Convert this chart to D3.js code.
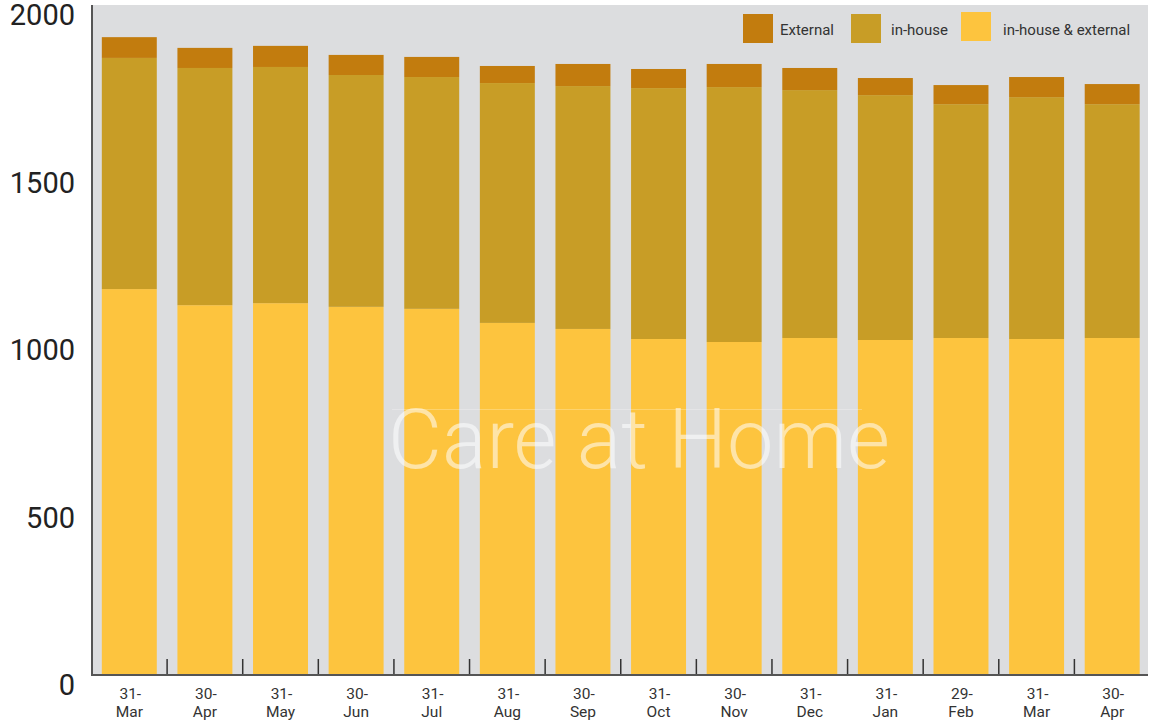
<!DOCTYPE html>
<html>
<head>
<meta charset="utf-8">
<script src="https://cdn.jsdelivr.net/npm/d3@7"></script>
<style>
  body { margin: 0; background: #fff; }
  svg { display: block; font-family: Roboto, "Noto Sans", sans-serif; }
</style>
</head>
<body>
<svg id="chart" width="1149" height="720"></svg>
<script>
// month-end dates, two lines each
var days = ['31', '30', '31', '30', '31', '31', '30', '31', '30', '31', '31', '29', '31', '30'];
var months = ['Mar', 'Apr', 'May', 'Jun', 'Jul', 'Aug', 'Sep', 'Oct', 'Nov', 'Dec', 'Jan', 'Feb', 'Mar', 'Apr'];

// series
var both = [1152, 1104, 1110, 1099, 1093, 1051, 1033, 1003, 994, 1006, 1000, 1006, 1003, 1006];
var inHouse = [690, 708, 705, 692, 692, 716, 725, 749, 761, 740, 731, 698, 722, 698];
var external = [62, 60, 63, 60, 60, 51, 66, 57, 69, 66, 51, 57, 60, 60];

var yTicks = [0, 500, 1000, 1500, 2000];
var seriesNames = ['in-house & external', 'in-house', 'External'];
var legendOrder = ['External', 'in-house', 'in-house & external'];

var colors = {
    'in-house & external': '#fdc43e',
    'in-house': '#c89d26',
    'External': '#c27c0e'
};

var svg = d3.select('#chart');
// note: "top" is taken by window.top, so use plot* names
var plotL = 92, plotR = 1148, plotT = 5, plotB = 675;

var rows = days.map(function (d, i) {
    return {
        key: i,
        'in-house & external': both[i],
        'in-house': inHouse[i],
        'External': external[i]
    };
});

var x = d3.scaleBand()
    .domain(rows.map(function (d) { return d.key; }))
    .range([91.5, 1150])
    .paddingInner(0.273)
    .paddingOuter(0.1365);

var y = d3.scaleLinear().domain([0, 2000]).range([plotB, plotT]);

//plot background
svg.append('rect')
    .attr('x', plotL).attr('y', plotT)
    .attr('width', plotR - plotL).attr('height', plotB - plotT)
    .attr('fill', '#dcdddf');

var stack = d3.stack().keys(seriesNames)(rows);

svg.append('g').selectAll('g')
    .data(stack)
    .join('g')
    .attr('fill', function (s) { return colors[s.key]; })
    .selectAll('rect')
    .data(function (s) { return s; })
    .join('rect')
    .attr('x', function (d) { return x(d.data.key); })
    .attr('width', x.bandwidth())
    .attr('y', function (d) { return y(d[1]); })
    .attr('height', function (d) { return y(d[0]) - y(d[1]); });

//watermark title
svg.append('line')
    .attr('x1', 392).attr('x2', 862)
    .attr('y1', 409.5).attr('y2', 409.5)
    .attr('stroke', '#fff').attr('stroke-opacity', 0.25);
svg.append('text')
    .attr('x', 639).attr('y', 468)
    .attr('text-anchor', 'middle')
    .attr('font-size', 83)
    .attr('font-weight', 300)
    .attr('fill', '#fff')
    .attr('fill-opacity', 0.55)
    .text('Care at Home');

//x ticks between bars, pointing up
var gap = x.step() - x.bandwidth();
svg.append('g').selectAll('line')
    .data(rows.slice(0, rows.length - 1))
    .join('line')
    .attr('x1', function (d) { return x(d.key) + x.bandwidth() + gap / 2; })
    .attr('x2', function (d) { return x(d.key) + x.bandwidth() + gap / 2; })
    .attr('y1', plotB).attr('y2', plotB - 16)
    .attr('stroke', '#333').attr('stroke-width', 1.5);

//axis lines
svg.append('line')
    .attr('x1', plotL).attr('x2', plotR)
    .attr('y1', plotB).attr('y2', plotB)
    .attr('stroke', '#555').attr('stroke-width', 2);
svg.append('line')
    .attr('x1', plotL).attr('x2', plotL)
    .attr('y1', plotT).attr('y2', plotB + 1)
    .attr('stroke', '#555').attr('stroke-width', 2);

//x labels
var xl = svg.append('g').selectAll('text')
    .data(rows)
    .join('text')
    .attr('text-anchor', 'middle')
    .attr('font-size', 15.5)
    .attr('fill', '#333');
xl.append('tspan')
    .attr('x', function (d) { return x(d.key) + x.bandwidth() / 2 + 1; })
    .attr('y', 699)
    .text(function (d) { return days[d.key] + '-'; });
xl.append('tspan')
    .attr('x', function (d) { return x(d.key) + x.bandwidth() / 2; })
    .attr('y', 717)
    .text(function (d) { return months[d.key]; });

//y labels hang below their value
svg.append('g').selectAll('text')
    .data(yTicks)
    .join('text')
    .attr('x', 75)
    .attr('y', function (d) { return y(d) + 20; })
    .attr('text-anchor', 'end')
    .attr('font-size', 29)
    .attr('fill', '#222')
    .text(function (d) { return d; });

//legend
var legendX = [743, 851, 961];
var legendY = [14, 14, 12];
var textX = [780, 891, 1003];
var lg = svg.append('g').selectAll('g')
    .data(legendOrder)
    .join('g');
lg.append('rect')
    .attr('x', function (d, i) { return legendX[i]; })
    .attr('y', function (d, i) { return legendY[i]; })
    .attr('width', 30).attr('height', 29)
    .attr('fill', function (d) { return colors[d]; });
lg.append('text')
    .attr('x', function (d, i) { return textX[i]; })
    .attr('y', 35)
    .attr('font-size', 15)
    .attr('fill', '#333')
    .text(function (d) { return d; });
</script>
</body>
</html>
